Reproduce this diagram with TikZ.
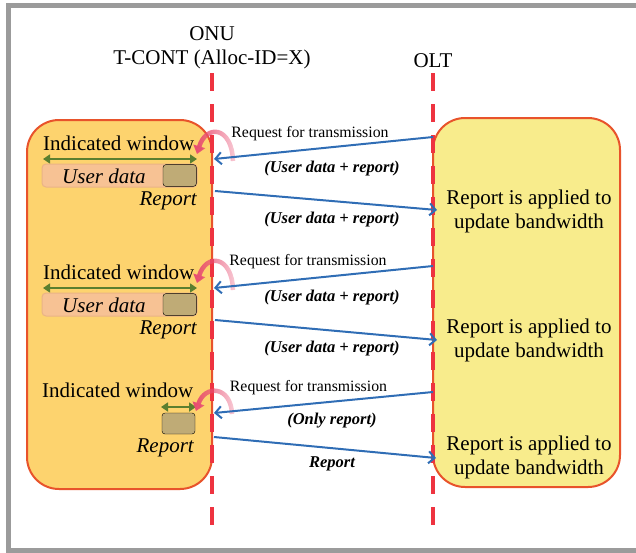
\documentclass[tikz,border=0pt]{standalone}
\usepackage{fontspec}
\setmainfont{Liberation Serif}
\usetikzlibrary{arrows.meta,fadings}
\definecolor{framegray}{HTML}{9B9B9B}
\definecolor{leftfill}{HTML}{FDD36E}
\definecolor{rightfill}{HTML}{F8EC8C}
\definecolor{boxborder}{HTML}{E8532B}
\definecolor{lifered}{HTML}{EE3340}
\definecolor{msgblue}{HTML}{2F6DB5}
\definecolor{wingreen}{HTML}{5B7F2F}
\definecolor{peach}{HTML}{F7C294}
\definecolor{peachedge}{HTML}{EAB386}
\definecolor{khaki}{HTML}{BFAB76}
\definecolor{pinkarr}{HTML}{E84E72}
\tikzfading[name=myfade, left color=transparent!0, right color=transparent!70]
\begin{document}
\begin{tikzpicture}[x=1pt,y=-1pt,
  big/.style={font=\fontsize{21}{24}\selectfont, inner sep=0pt},
  bigit/.style={font=\fontsize{21}{24}\selectfont\itshape, inner sep=0pt},
  reqtext/.style={font=\fontsize{15.8}{18}\selectfont, inner sep=0pt},
  lbl/.style={font=\fontsize{16.5}{18}\selectfont\bfseries\itshape, inner sep=0pt},
  lifeline/.style={draw=lifered, line width=4.5pt, dash pattern=on 18pt off 13pt},
  msg/.style={draw=msgblue, line width=2pt, -{Straight Barb[length=6pt,width=12pt]}},
  winarrow/.style={draw=wingreen, line width=2.2pt, {Triangle[length=7pt,width=9pt]}-{Triangle[length=7pt,width=9pt]}},
  databar/.style={fill=peach, draw=peachedge, line width=1pt, rounded corners=4pt},
  repbox/.style={fill=khaki, rounded corners=3pt},
  curl/.style={draw=pinkarr, line width=4.5pt, -{Triangle[length=8pt,width=12pt]}, path fading=myfade},
  leftbox/.style={fill=leftfill, draw=boxborder, line width=2pt, rounded corners=32pt},
  rightbox/.style={fill=rightfill, draw=boxborder, line width=2pt, rounded corners=32pt}
]
\useasboundingbox (0,0) rectangle (636,552);
% frame
\draw[framegray, line width=5pt] (645,5.5) -- (8.5,5.5) -- (8.5,550) -- (645,550);

% boxes
\node[leftbox, minimum width=185pt, minimum height=369pt] (onubox) at (119.5,304.5) {};
\node[rightbox, minimum width=187pt, minimum height=369pt] (oltbox) at (526.5,302.5) {};

% heads
\node[big, align=center] (onu) at (212,48) {ONU\\T-CONT (Alloc-ID=X)};
\node[big, anchor=base] (olt) at (433,67) {OLT};

% lifelines
\coordinate (onutop) at (212,73);
\coordinate (onubot) at (212,531);
\coordinate (olttop) at (433,73);
\coordinate (oltbot) at (433,531);
\draw[lifeline] (onutop) -- (onubot);
\draw[lifeline] (olttop) -- (oltbot);

% ---------- row 1
\node[big, anchor=base west] (iw1) at (43,150) {Indicated window};
\coordinate (w1a) at (43,159); \coordinate (w1b) at (197,159);
\draw[winarrow] (w1a) -- (w1b);
\draw[databar] (42,164) rectangle (197,187);
\draw[repbox] (163,164.6) rectangle (196.4,186.4);
\node[bigit, anchor=base west] (ud1) at (62,183) {User data};
\node[bigit, anchor=base east] (rp1) at (197,205) {Report};
\coordinate (c1s) at (233,161); \coordinate (c1e) at (197,154);
\draw[curl] (c1s) .. controls (232,126) and (206,124) .. (c1e);
\coordinate (q1a) at (433,137); \coordinate (q1b) at (214,159);
\draw[msg] (q1a) -- (q1b);
\node[reqtext, anchor=base] (rq1) at (310,137) {Request for transmission};
\node[lbl, anchor=base] (l1a) at (332,172) {(User data + report)};
\coordinate (s1a) at (215,191); \coordinate (s1b) at (437,210);
\draw[msg] (s1a) -- (s1b);
\node[lbl, anchor=base] (l1b) at (332,223) {(User data + report)};
\node[big, align=center] (t1) at (529,211) {Report is applied to\\update bandwidth};

% ---------- row 2
\node[big, anchor=base west] (iw2) at (43,279) {Indicated window};
\coordinate (w2a) at (43,288); \coordinate (w2b) at (197,288);
\draw[winarrow] (w2a) -- (w2b);
\draw[databar] (42,293) rectangle (197,316);
\draw[repbox] (163,293.6) rectangle (196.4,315.4);
\node[bigit, anchor=base west] (ud2) at (62,312) {User data};
\node[bigit, anchor=base east] (rp2) at (197,334) {Report};
\coordinate (c2s) at (233,290); \coordinate (c2e) at (197,283);
\draw[curl] (c2s) .. controls (232,255) and (206,253) .. (c2e);
\coordinate (q2a) at (433,266); \coordinate (q2b) at (214,288);
\draw[msg] (q2a) -- (q2b);
\node[reqtext, anchor=base] (rq2) at (308,265) {Request for transmission};
\node[lbl, anchor=base] (l2a) at (332,301) {(User data + report)};
\coordinate (s2a) at (215,320); \coordinate (s2b) at (437,340);
\draw[msg] (s2a) -- (s2b);
\node[lbl, anchor=base] (l2b) at (332,352) {(User data + report)};
\node[big, align=center] (t2) at (529,340) {Report is applied to\\update bandwidth};

% ---------- row 3
\node[big, anchor=base west] (iw3) at (42,397) {Indicated window};
\coordinate (w3a) at (161,407); \coordinate (w3b) at (196,407);
\draw[winarrow] (w3a) -- (w3b);
\draw[repbox] (162,413) rectangle (195,434);
\node[bigit, anchor=base east] (rp3) at (194,452) {Report};
\coordinate (c3s) at (232,414); \coordinate (c3e) at (196,411);
\draw[curl] (c3s) .. controls (231,386) and (205,384) .. (c3e);
\coordinate (q3a) at (433,392); \coordinate (q3b) at (214,413);
\draw[msg] (q3a) -- (q3b);
\node[reqtext, anchor=base] (rq3) at (308.5,391) {Request for transmission};
\node[lbl, anchor=base] (l3a) at (332,424) {(Only report)};
\coordinate (s3a) at (214,437); \coordinate (s3b) at (436,458);
\draw[msg] (s3a) -- (s3b);
\node[lbl, anchor=base] (l3b) at (332,467) {Report};
\node[big, align=center] (t3) at (529,457) {Report is applied to\\update bandwidth};
\end{tikzpicture}
\end{document}
